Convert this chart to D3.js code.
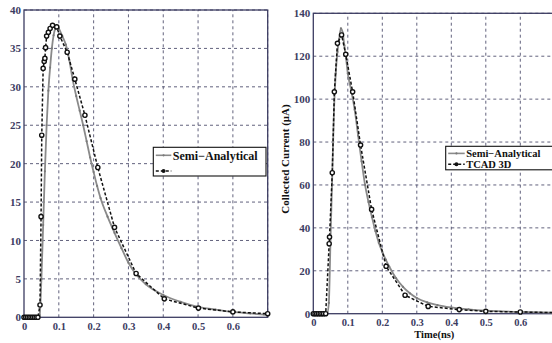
<!DOCTYPE html>
<html><head><meta charset="utf-8">
<script src="https://cdn.jsdelivr.net/npm/d3@7"></script>
<style>
html,body{margin:0;padding:0;background:#fff;}
svg{display:block;font-family:"Liberation Serif","Times New Roman",serif;font-weight:bold;}
</style></head><body>
<svg id="chart" width="552" height="343"></svg>
<script>
// ---------- data ----------
// Left panel
const leftSemiT = [0,0.01,0.02,0.03,0.04,0.045,0.05,0.055,0.06,0.065,0.07,0.075,0.08,0.085,0.09,0.095,0.1,0.11,0.12,0.13,0.14,0.15,0.16,0.17,0.18,0.19,0.2,0.21,0.22,0.24,0.26,0.28,0.3,0.32,0.35,0.4,0.45,0.5,0.55,0.6,0.65,0.69];
const leftSemiV = [0,0,0,0,0,0.3,5,12,19,25,29.5,32.5,35,36.7,37.6,37.9,37.6,36.6,35.5,33.5,30.9,28.8,26.9,25,22.9,20.8,18.9,17.1,15.5,13.1,11,9,7.1,5.7,4.3,2.9,2.0,1.35,1.0,0.7,0.5,0.35];
const leftTcadT = [0,0.005,0.01,0.015,0.02,0.025,0.03,0.035,0.04,0.046,0.049,0.051,0.055,0.058,0.06,0.062,0.065,0.07,0.075,0.082,0.094,0.103,0.124,0.146,0.175,0.212,0.26,0.322,0.403,0.501,0.6,0.7];
const leftTcadV = [0,0,0,0,0,0,0,0,0,1.6,13.1,23.7,32.4,33.3,33.7,35.1,36.6,37.1,37.6,38.0,37.8,36.6,34.5,31.0,26.3,19.5,11.7,5.7,2.4,1.2,0.7,0.47];
// Right panel
const rightSemiT = [0,0.01,0.02,0.03,0.04,0.045,0.05,0.055,0.06,0.065,0.07,0.075,0.08,0.085,0.09,0.095,0.1,0.11,0.12,0.13,0.14,0.15,0.16,0.17,0.18,0.19,0.2,0.21,0.22,0.24,0.26,0.28,0.3,0.33,0.36,0.4,0.45,0.5,0.6,0.7];
const rightSemiV = [0,0,0,0,0,5,35,65,95,112,122,128,133,131,125,119,112,104,95,83,71,60,52,45,38.5,33,28.8,25.2,22,16.5,12.5,9.5,7.3,5.3,4,2.9,2,1.4,0.8,0.45];
const rightTcadT = [0,0.005,0.01,0.015,0.02,0.025,0.03,0.036,0.046,0.047,0.055,0.061,0.07,0.082,0.094,0.114,0.137,0.169,0.211,0.266,0.333,0.423,0.5,0.6,0.7];
const rightTcadV = [0,0,0,0,0,0,0,0,32.6,35.7,65.7,103.4,126.0,129.9,120.9,103.4,78.6,48.6,22.1,8.6,3.4,1.9,1.1,0.8,0.5];
// ticks
const xTicks = [0,0.1,0.2,0.3,0.4,0.5,0.6,0.7];
const xTickLabels = ["0","0.1","0.2","0.3","0.4","0.5","0.6",""];
const leftYTicks = [0,5,10,15,20,25,30,35,40];
const rightYTicks = [0,20,40,60,80,100,120,140];
const legendLabels = ["Semi\u2212Analytical","TCAD 3D"];

// ---------- drawing ----------
const svg = d3.select("#chart");
const axisColor = "#3c3c62";
const gridColor = "#50506e";

function panel(cfg){
  const x = d3.scaleLinear().domain([0,0.7]).range([cfg.x0,cfg.x1]);
  const y = d3.scaleLinear().domain([0,cfg.ymax]).range([cfg.y0,cfg.y1]);
  const g = svg.append("g");
  // grid
  g.selectAll(".gx").data(xTicks.slice(1)).enter().append("line")
    .attr("x1",d=>x(d)).attr("x2",d=>x(d)).attr("y1",cfg.y0).attr("y2",cfg.y1)
    .attr("stroke",gridColor).attr("stroke-width",0.9).attr("stroke-dasharray","3,3");
  g.selectAll(".gy").data(cfg.yTicks.slice(1)).enter().append("line")
    .attr("x1",cfg.x0).attr("x2",cfg.x1).attr("y1",d=>y(d)).attr("y2",d=>y(d))
    .attr("stroke",gridColor).attr("stroke-width",0.9).attr("stroke-dasharray","3,3");
  // frame
  g.append("rect").attr("x",cfg.x0).attr("y",cfg.y1).attr("width",cfg.x1-cfg.x0).attr("height",cfg.y0-cfg.y1)
    .attr("fill","none").attr("stroke",axisColor).attr("stroke-width",1.3);
  // axes via d3
  const xa = d3.axisBottom(x).tickValues(xTicks).tickFormat((d,i)=>xTickLabels[i]).tickSize(0).tickPadding(5);
  const xg = g.append("g").attr("transform",`translate(0,${cfg.y0})`).call(xa);
  xg.select(".domain").remove();
  xg.selectAll("text").attr("fill",axisColor).attr("font-size",10.5).attr("font-weight","bold")
    .attr("font-family","Liberation Serif");
  const ya = d3.axisLeft(y).tickValues(cfg.yTicks).tickFormat(d3.format("d")).tickSize(0).tickPadding(3);
  const yg = g.append("g").attr("transform",`translate(${cfg.x0},0)`).call(ya);
  yg.select(".domain").remove();
  yg.selectAll("text").attr("fill",axisColor).attr("font-size",11).attr("font-weight","bold")
    .attr("font-family","Liberation Serif");

  const semi = cfg.semiT.map((t,i)=>[t,cfg.semiV[i]]);
  const tcad = cfg.tcadT.map((t,i)=>[t,cfg.tcadV[i]]);
  const line = d3.line().x(d=>x(d[0])).y(d=>y(d[1]));
  const sline = d3.line().x(d=>x(d[0])).y(d=>y(d[1])).curve(d3.curveMonotoneX);
  // semi-analytical
  g.append("path").datum(semi).attr("d",sline).attr("fill","none")
    .attr("stroke","#8a8a8a").attr("stroke-width",1.8);
  g.selectAll(".sm").data(semi).enter().append("circle")
    .attr("cx",d=>x(d[0])).attr("cy",d=>y(d[1])).attr("r",1.1).attr("fill","#7a7a7a");
  // tcad
  g.append("path").datum(tcad).attr("d",line).attr("fill","none")
    .attr("stroke","#111").attr("stroke-width",1.5).attr("stroke-dasharray","3,2");
  g.selectAll(".tm").data(tcad).enter().append("circle")
    .attr("cx",d=>x(d[0])).attr("cy",d=>y(d[1])).attr("r",2.1)
    .attr("fill","#fff").attr("stroke","#111").attr("stroke-width",1.4);
  return {x,y,g};
}

const L = panel({x0:24,x1:267.7,y0:317.3,y1:10,ymax:40,yTicks:leftYTicks,
  semiT:leftSemiT,semiV:leftSemiV,tcadT:leftTcadT,tcadV:leftTcadV});
const R = panel({x0:313.3,x1:554.8,y0:313.7,y1:13.3,ymax:140,yTicks:rightYTicks,
  semiT:rightSemiT,semiV:rightSemiV,tcadT:rightTcadT,tcadV:rightTcadV});

// legends
function legend(cfg){
  const g = svg.append("g");
  g.append("rect").attr("x",cfg.x).attr("y",cfg.y).attr("width",cfg.w).attr("height",cfg.h)
    .attr("fill","#fff").attr("stroke","#111").attr("stroke-width",1.1);
  cfg.rows.forEach((r,i)=>{
    const yy = cfg.rowY[i];
    g.append("line").attr("x1",cfg.x+2.5).attr("x2",cfg.x+cfg.sw).attr("y1",yy).attr("y2",yy)
      .attr("stroke",i===0?"#8a8a8a":"#111").attr("stroke-width",i===0?1.6:1.5)
      .attr("stroke-dasharray",i===0?null:"3,2");
    g.append("circle").attr("cx",cfg.x+2.5+(cfg.sw-2.5)/2).attr("cy",yy).attr("r",i===0?1.1:2)
      .attr("fill",i===0?"#7a7a7a":"#111");
    if(r) g.append("text").attr("x",cfg.x+cfg.sw+1.5).attr("y",yy).attr("dy","0.35em")
      .attr("font-size",cfg.fs).attr("fill","#111").text(r);
  });
}
legend({x:153.3,y:147.3,w:112.7,h:28.7,sw:18,fs:12,rowY:[155.3,171],rows:[legendLabels[0],""]});
legend({x:445.7,y:146.3,w:110,h:23.5,sw:19,fs:10.5,rowY:[153.4,164.2],rows:legendLabels});

// axis titles (right panel)
svg.append("text").attr("transform","translate(289,159) rotate(-90)").attr("text-anchor","middle")
  .attr("font-size",11).attr("fill","#111").text("Collected Current (\u03bcA)");
svg.append("text").attr("x",434.3).attr("y",338).attr("text-anchor","middle")
  .attr("font-size",10.5).attr("fill","#111").text("Time(ns)");
</script>
</body></html>
